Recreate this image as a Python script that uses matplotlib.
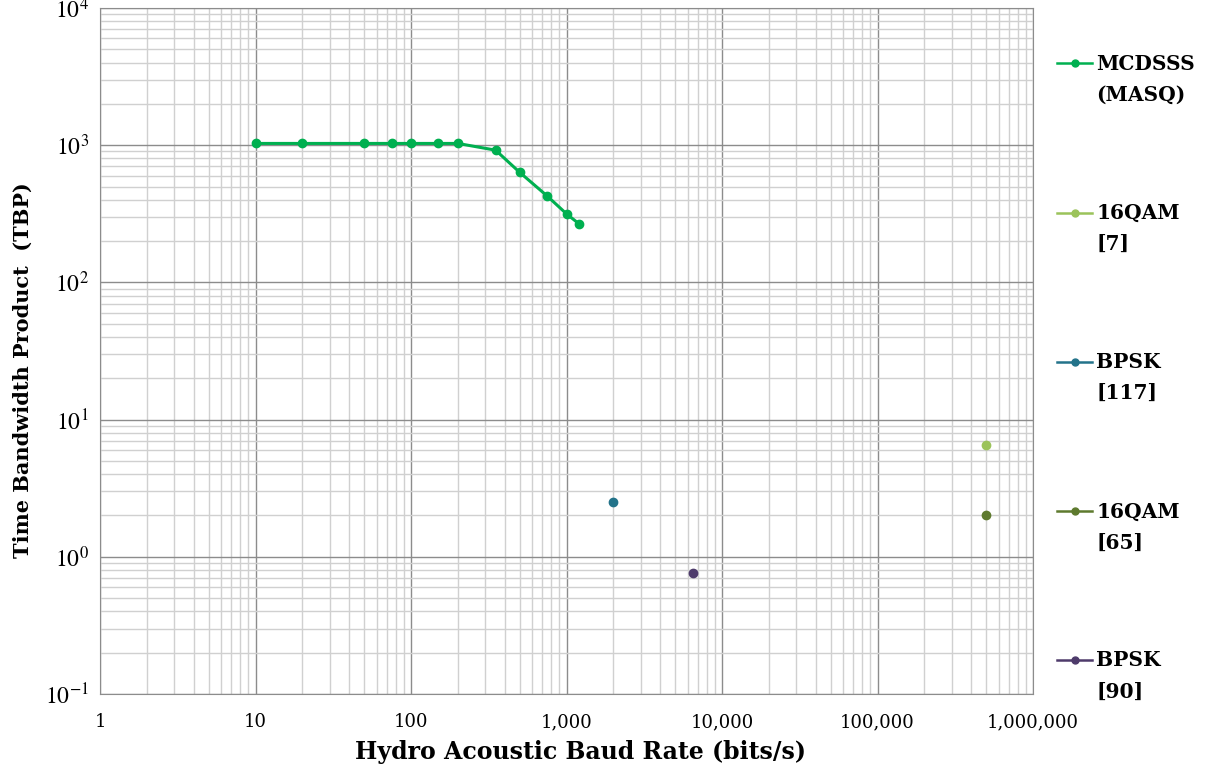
import matplotlib
matplotlib.use("Agg")
import matplotlib.pyplot as plt
from matplotlib.ticker import FixedLocator, FixedFormatter, LogLocator, NullFormatter
from matplotlib.legend_handler import HandlerLine2D

# ---- data ----
mcdsss_rate = [10, 20, 50, 75, 100, 150, 200, 350, 500, 750, 1000, 1200]
mcdsss_tbp = [1030, 1030, 1030, 1030, 1030, 1030, 1030, 920, 634, 427, 316, 268]

qam7_rate = [500000]
qam7_tbp = [6.5]
bpsk117_rate = [2000]
bpsk117_tbp = [2.5]
qam65_rate = [500000]
qam65_tbp = [2.0]
bpsk90_rate = [6500]
bpsk90_tbp = [0.76]

series_labels = ["MCDSSS\n(MASQ)", "16QAM\n[7]", "BPSK\n[117]", "16QAM\n[65]", "BPSK\n[90]"]
series_colors = ["#00B050", "#9BC35A", "#23738A", "#5E7A2E", "#4E3B6B"]

x_ticks = [1, 10, 100, 1000, 10000, 100000, 1000000]
x_tick_labels = ["1", "10", "100", "1,000", "10,000", "100,000", "1,000,000"]
y_ticks = [0.1, 1, 10, 100, 1000, 10000]
y_tick_labels = [r"$10^{-1}$", r"$10^{0}$", r"$10^{1}$", r"$10^{2}$", r"$10^{3}$", r"$10^{4}$"]

plt.rcParams["mathtext.fontset"] = "stix"

LEG_FS = 14.5
LEG_LS = 1.69


class TopLineHandler(HandlerLine2D):
    """Place the legend handle beside the first line of a two-line label."""
    def create_artists(self, legend, orig_handle, xdescent, ydescent,
                       width, height, fontsize, trans):
        arts = super().create_artists(legend, orig_handle, xdescent, ydescent,
                                      width, height, fontsize, trans)
        shift = fontsize * LEG_LS / 2.0
        for a in arts:
            yd = a.get_ydata()
            a.set_ydata([v + shift for v in yd])
        return arts


fig = plt.figure(figsize=(12.11, 7.73), dpi=100)
ax = fig.add_axes([100/1211, 1-694/773, 933/1211, 686/773])

series = [
    (mcdsss_rate, mcdsss_tbp),
    (qam7_rate, qam7_tbp),
    (bpsk117_rate, bpsk117_tbp),
    (qam65_rate, qam65_tbp),
    (bpsk90_rate, bpsk90_tbp),
]
lines = []
for (xs, ys), lab, col in zip(series, series_labels, series_colors):
    ln, = ax.plot(xs, ys, color=col, lw=2.2, marker="o", ms=6, label=lab, zorder=3)
    lines.append(ln)

ax.set_xscale("log")
ax.set_yscale("log")
ax.set_xlim(1, 1e6)
ax.set_ylim(0.1, 1e4)

ax.xaxis.set_major_locator(FixedLocator(x_ticks))
ax.xaxis.set_major_formatter(FixedFormatter(x_tick_labels))
ax.yaxis.set_major_locator(FixedLocator(y_ticks))
ax.yaxis.set_major_formatter(FixedFormatter(y_tick_labels))
ax.xaxis.set_minor_locator(LogLocator(base=10, subs=range(2, 10), numticks=20))
ax.yaxis.set_minor_locator(LogLocator(base=10, subs=range(2, 10), numticks=20))
ax.xaxis.set_minor_formatter(NullFormatter())
ax.yaxis.set_minor_formatter(NullFormatter())

ax.grid(which="major", color="#8c8c8c", lw=1.0)
ax.grid(which="minor", color="#d0d0d0", lw=1.0)
ax.set_axisbelow(True)
ax.tick_params(which="both", length=0)
ax.tick_params(axis="x", labelsize=13, pad=14)
ax.tick_params(axis="y", labelsize=17, pad=8)
for lbl in ax.get_xticklabels():
    lbl.set_fontfamily("DejaVu Serif")
for sp in ax.spines.values():
    sp.set_color("#8c8c8c")

ax.set_xlabel("Hydro Acoustic Baud Rate (bits/s)", fontsize=17, fontweight="bold",
              fontfamily="DejaVu Serif")
ax.set_ylabel("Time Bandwidth Product  (TBP)", fontsize=15, fontweight="bold",
              fontfamily="DejaVu Serif")
ax.xaxis.set_label_coords(0.5145, -0.067)
ax.yaxis.set_label_coords(-0.072, 0.472)

leg = fig.legend(handles=lines, labels=series_labels, loc="upper left",
                 bbox_to_anchor=(1057/1211, 1-54/773), bbox_transform=fig.transFigure,
                 frameon=False,
                 prop={"family": "DejaVu Serif", "weight": "bold", "size": LEG_FS},
                 labelspacing=4.87, handlelength=1.74, handletextpad=0.2,
                 borderpad=0, borderaxespad=0,
                 handler_map={l: TopLineHandler() for l in lines})
for t in leg.get_texts():
    t.set_linespacing(LEG_LS)
for h in leg.legend_handles:
    h.set_linewidth(1.8)
    h.set_markersize(5)

fig.savefig("out.png", dpi=100)
